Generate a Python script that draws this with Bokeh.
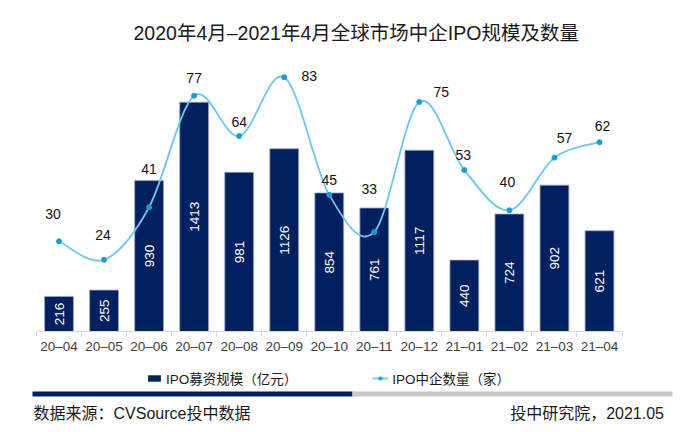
import numpy as np
from bokeh.plotting import figure
from bokeh.models import (Range1d, LinearAxis, FixedTicker, Legend, LegendItem,
                          ColumnDataSource)
from bokeh.layouts import column
from bokeh.embed import file_html
from bokeh.resources import INLINE
from bokeh.core.properties import value

# ---------------- data ----------------
months = ["20–04", "20–05", "20–06", "20–07", "20–08", "20–09", "20–10",
          "20–11", "20–12", "21–01", "21–02", "21–03", "21–04"]
ipo_amount = [216, 255, 930, 1413, 981, 1126, 854, 761, 1117, 440, 724, 902, 621]
ipo_count = [30, 24, 41, 77, 64, 83, 45, 33, 75, 53, 40, 57, 62]

title_text = "2020年4月–2021年4月全球市场中企IPO规模及数量"
bar_name = "IPO募资规模（亿元）"
line_name = "IPO中企数量（家）"
source_text = "数据来源：CVSource投中数据"
credit_text = "投中研究院，2021.05"

# label placement offsets (screen px, style only)
count_label_dx = [-6, -1, 0, 0, 0, 25, 0, -5, 22, -1, -2, 10, 3]
count_label_dy = [-27, -25, -38, -18, -14, -1, -15, -43, -10, -15, -28, -20, -16]

NAVY = "#002060"
LINE_BLUE = "#6cc8ec"
DOT_BLUE = "#12a0d6"
FONT = "'Liberation Sans', 'Noto Sans CJK SC', sans-serif"

# layout (pixels)
W = 690
AX_LEFT, AX_RIGHT = 36.0, 621.5

n = len(months)
xs = list(range(n))
unit = (AX_RIGHT - AX_LEFT) / n
x_start = -0.5 - AX_LEFT / unit
x_end = n - 0.5 + (W - AX_RIGHT) / unit

# ---------------- main figure ----------------
p = figure(width=W, height=362, x_range=Range1d(x_start, x_end),
           y_range=Range1d(0, 1670), x_axis_type=None, y_axis_type=None,
           output_backend="svg", toolbar_location=None,
           min_border_left=0, min_border_right=0, min_border_top=60,
           min_border_bottom=31, title=title_text)
p.outline_line_color = None
p.xgrid.visible = False
p.ygrid.visible = False
p.title.align = "left"
p.title.offset = 133
p.title.standoff = 34
p.title.text_font = FONT
p.title.text_font_size = "19.5px"
p.title.text_font_style = "normal"
p.title.text_color = "#1a1a1a"
p.extra_y_ranges = {"cnt": Range1d(0.84, 88.4)}

bar_src = ColumnDataSource(dict(x=xs, amount=ipo_amount,
                                half=[v / 2 for v in ipo_amount],
                                txt=[str(v) for v in ipo_amount]))
bars = p.vbar(x="x", top="amount", width=0.64, source=bar_src,
              fill_color=NAVY, line_color="#9aa6c0", line_width=0.8)
p.text(x="x", y="half", text="txt", source=bar_src, angle=np.pi / 2,
       text_color="white", text_font_size="13.5px", text_align="center",
       text_baseline="middle", text_font=value(FONT))

# smooth (Catmull-Rom style) bezier segments through the count points
cx0, cy0, cx1, cy1 = [], [], [], []
for i in range(n - 1):
    xp, yp = xs[max(i - 1, 0)], ipo_count[max(i - 1, 0)]
    xa, ya = xs[i], ipo_count[i]
    xb, yb = xs[i + 1], ipo_count[i + 1]
    xn, yn = xs[min(i + 2, n - 1)], ipo_count[min(i + 2, n - 1)]
    cx0.append(xa + (xb - xp) / 6.0)
    cy0.append(ya + (yb - yp) / 6.0)
    cx1.append(xb - (xn - xa) / 6.0)
    cy1.append(yb - (yn - ya) / 6.0)
curve_src = ColumnDataSource(dict(x0=xs[:-1], y0=ipo_count[:-1], x1=xs[1:],
                                  y1=ipo_count[1:], cx0=cx0, cy0=cy0,
                                  cx1=cx1, cy1=cy1))
p.bezier(x0="x0", y0="y0", x1="x1", y1="y1", cx0="cx0", cy0="cy0",
         cx1="cx1", cy1="cy1", source=curve_src, y_range_name="cnt",
         line_color=LINE_BLUE, line_width=1.8)

cnt_src = ColumnDataSource(dict(x=xs, cnt=ipo_count,
                                txt=[str(v) for v in ipo_count],
                                dx=count_label_dx, dy=count_label_dy))
p.scatter(x="x", y="cnt", source=cnt_src, y_range_name="cnt",
          size=5, fill_color=DOT_BLUE, line_color=DOT_BLUE)
p.text(x="x", y="cnt", text="txt", source=cnt_src, y_range_name="cnt",
       x_offset="dx", y_offset="dy", text_color="#111111",
       text_font_size="14px", text_align="center", text_baseline="middle",
       text_font=value(FONT))

# x axis: labels at category centres, ticks at category boundaries
xaxis = LinearAxis(ticker=FixedTicker(ticks=xs,
                                      minor_ticks=[i - 0.5 for i in range(n + 1)]),
                   major_label_overrides={i: m for i, m in zip(xs, months)},
                   bounds=(-0.5, n - 0.5))
xaxis.axis_line_color = "#d9d9d9"
xaxis.major_tick_line_color = None
xaxis.major_tick_out = 0
xaxis.major_tick_in = 0
xaxis.minor_tick_line_color = "#d9d9d9"
xaxis.minor_tick_out = 5
xaxis.minor_tick_in = 0
xaxis.major_label_standoff = 2
xaxis.major_label_text_font = FONT
xaxis.major_label_text_font_size = "13.5px"
xaxis.major_label_text_color = "#404040"
p.add_layout(xaxis, "below")

# ---------------- footer (legend + source line) ----------------
# footer coordinates: x = page pixels, y = 432 - page pixels
f = figure(width=W, height=70, x_range=Range1d(0, W), y_range=Range1d(0, 70),
           x_axis_type=None, y_axis_type=None, output_backend="svg",
           toolbar_location=None, min_border=0, min_border_left=0,
           min_border_right=0, min_border_top=0, min_border_bottom=0)
f.outline_line_color = None
f.xgrid.visible = False
f.ygrid.visible = False

# legend keys (proxies styled like the main chart's series, nothing drawn)
nan = float("nan")
leg_bar = f.vbar(x=[nan], top=[nan], width=0.64, fill_color=NAVY, line_color=None)
leg_line = f.line(x=[nan], y=[nan], line_color=LINE_BLUE, line_width=1.8)
leg_dot = f.scatter(x=[nan], y=[nan], size=5, fill_color=DOT_BLUE, line_color=DOT_BLUE)
legend = Legend(items=[LegendItem(label=bar_name, renderers=[leg_bar]),
                       LegendItem(label=line_name, renderers=[leg_line, leg_dot])],
                orientation="horizontal", location=(146, 44),
                glyph_width=16, glyph_height=8, label_standoff=4, spacing=75,
                padding=0, margin=0, border_line_color=None,
                background_fill_alpha=0, label_text_font=FONT,
                label_text_font_size="13.5px", label_text_color="#1a1a1a")
f.add_layout(legend, "center")

f.quad(left=[32], right=[352], bottom=[36], top=[41], fill_color=NAVY, line_color=None)
f.quad(left=[352], right=[672], bottom=[36], top=[41], fill_color="#c8c8c8", line_color=None)
f.text(x=[33], y=[19], text=[source_text], text_align="left", text_baseline="middle",
       text_font=value(FONT), text_font_size="16px", text_color="#1a1a1a")
f.text(x=[663.5], y=[19], text=[credit_text], text_align="right", text_baseline="middle",
       text_font=value(FONT), text_font_size="16px", text_color="#1a1a1a")

layout = column(p, f, spacing=0)
open("out.html", "w").write(file_html(layout, INLINE))
